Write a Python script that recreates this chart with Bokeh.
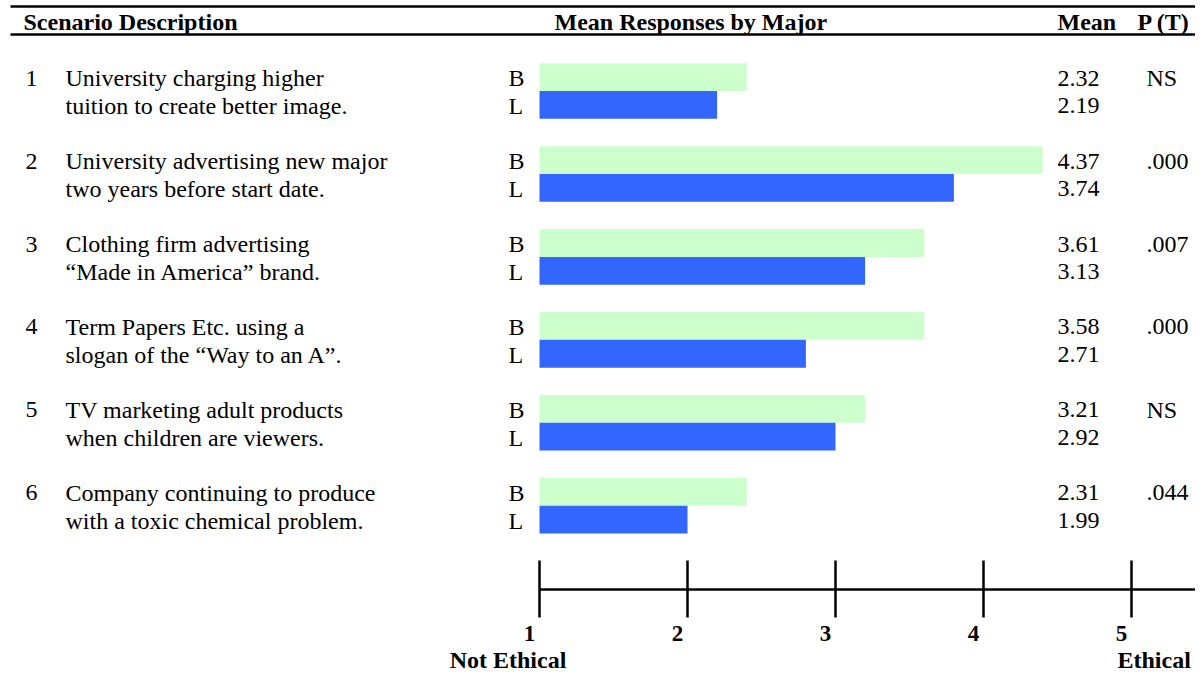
from bokeh.plotting import figure
from bokeh.models import Range1d
from bokeh.core.properties import value
from bokeh.embed import file_html
from bokeh.resources import INLINE

# ---------------- data ----------------
scenario_ids = ["1", "2", "3", "4", "5", "6"]
desc_line1 = [
    "University charging higher",
    "University advertising new major",
    "Clothing firm advertising",
    "Term Papers Etc. using a",
    "TV marketing adult products",
    "Company continuing to produce",
]
desc_line2 = [
    "tuition to create better image.",
    "two years before start date.",
    "\u201cMade in America\u201d brand.",
    "slogan of the \u201cWay to an A\u201d.",
    "when children are viewers.",
    "with a toxic chemical problem.",
]
bar_business = [2.4, 4.4, 3.6, 3.6, 3.2, 2.4]   # bar lengths as drawn (B)
bar_liberal = [2.2, 3.8, 3.2, 2.8, 3.0, 2.0]    # bar lengths as drawn (L)
mean_business = ["2.32", "4.37", "3.61", "3.58", "3.21", "2.31"]
mean_liberal = ["2.19", "3.74", "3.13", "2.71", "2.92", "1.99"]
p_values = ["NS", ".000", ".007", ".000", "NS", ".044"]
tick_values = [1, 2, 3, 4, 5]
tick_labels = ["1", "2", "3", "4", "5"]
headers = ["Scenario Description", "Mean Responses by Major", "Mean", "P (T)"]
scale_low = "Not Ethical"
scale_high = "Ethical"

# ---------------- layout ----------------
W, H = 1195, 688
X0_PX, PX_PER_UNIT = 539.0, 148.0   # pixel position of value 1, pixels per unit


def sx(px):
    return 1 + (px - X0_PX) / PX_PER_UNIT


FONT = value("Liberation Serif")
FS = "24px"

p = figure(width=W, height=H, output_backend="svg", toolbar_location=None,
           x_range=Range1d(sx(0), sx(W)), y_range=Range1d(H, 0),
           x_axis_type=None, y_axis_type=None, min_border=0,
           outline_line_color=None, background_fill_color="white",
           border_fill_color="white")

n = len(scenario_ids)
first_top, step, bh = 62.7, 82.95, 27.8
b_center = [first_top + i * step + bh / 2 for i in range(n)]
l_center = [c + bh for c in b_center]

# bars
p.hbar(y=b_center, left=1, right=bar_business, height=bh,
       fill_color="#CCFFCC", line_color=None)
p.hbar(y=l_center, left=1, right=bar_liberal, height=bh,
       fill_color="#3366FF", line_color=None)

common = dict(text_font=FONT, text_font_size=FS, text_color="black",
              text_baseline="middle")

# header
p.segment(x0=[sx(10), sx(10)], x1=[sx(W), sx(W)], y0=[6, 34], y1=[6, 34],
          line_color="black", line_width=2.3)
p.text(x=[sx(23), sx(554), sx(1057), sx(1137)], y=[21] * 4, text=headers,
       text_font_style="bold", text_align="left", **common)

# left column
p.text(x=[sx(25)] * n, y=[c + 1 for c in b_center], text=scenario_ids,
       text_align="left", **common)
p.text(x=[sx(65)] * n, y=[c + 1 for c in b_center], text=desc_line1,
       text_align="left", **common)
p.text(x=[sx(65)] * n, y=[c + 1 for c in l_center], text=desc_line2,
       text_align="left", **common)

# B / L labels
p.text(x=[sx(508)] * n, y=[c + 1 for c in b_center], text=["B"] * n,
       text_align="left", **common)
p.text(x=[sx(508)] * n, y=[c + 1 for c in l_center], text=["L"] * n,
       text_align="left", **common)

# means and p
p.text(x=[sx(1057)] * n, y=[c + 1 for c in b_center], text=mean_business,
       text_align="left", **common)
p.text(x=[sx(1057)] * n, y=[c + 1 for c in l_center], text=mean_liberal,
       text_align="left", **common)
p.text(x=[sx(1146)] * n, y=[c + 1 for c in b_center], text=p_values,
       text_align="left", **common)

# scale axis
p.segment(x0=[1], x1=[sx(W)], y0=[589], y1=[589], line_color="black",
          line_width=2.5)
p.segment(x0=tick_values, x1=tick_values, y0=[560] * len(tick_values),
          y1=[617] * len(tick_values), line_color="black", line_width=2.5)
p.text(x=tick_values, y=[633] * len(tick_values), text=tick_labels,
       x_offset=-10, text_align="center", text_font=FONT, text_font_size="23px",
       text_font_style="bold", text_color="black", text_baseline="middle")
p.text(x=[sx(507.5)], y=[659], text=[scale_low], text_align="center",
       text_font=FONT, text_font_size=FS, text_font_style="bold",
       text_color="black", text_baseline="middle")
p.text(x=[sx(1117)], y=[659], text=[scale_high], text_align="left",
       text_font=FONT, text_font_size=FS, text_font_style="bold",
       text_color="black", text_baseline="middle")

open("out.html", "w").write(file_html(p, INLINE))
